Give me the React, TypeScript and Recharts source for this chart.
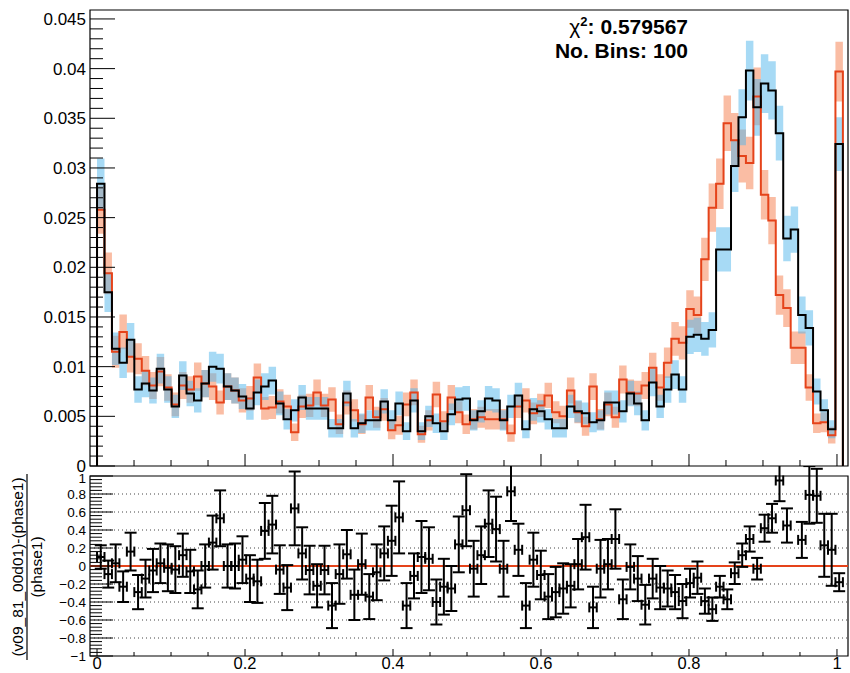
import {
  ComposedChart,
  Line,
  Area,
  XAxis,
  YAxis,
  Scatter,
  ErrorBar,
  ReferenceLine,
  ReferenceArea,
} from 'recharts'

const FONT = '"Liberation Sans", Arial, Helvetica, sans-serif'

// 100 bins, normalised histograms
const v09Hist = [
  0.0284, 0.0175, 0.0118, 0.0104, 0.0127, 0.0077, 0.0083, 0.0076, 0.0098, 0.0077,
  0.006, 0.0091, 0.0073, 0.0066, 0.0083, 0.01, 0.0098, 0.008, 0.0076, 0.007,
  0.0058, 0.0074, 0.008, 0.0086, 0.0063, 0.0047, 0.0056, 0.0069, 0.0058, 0.0058,
  0.0058, 0.0038, 0.0038, 0.0073, 0.0038, 0.0043, 0.0046, 0.0046, 0.0065, 0.0046,
  0.0063, 0.0035, 0.0066, 0.0035, 0.005, 0.0043, 0.0035, 0.0052, 0.0067, 0.0068,
  0.0046, 0.0055, 0.0068, 0.0066, 0.0046, 0.006, 0.0071, 0.0037, 0.0057, 0.0055,
  0.0047, 0.0038, 0.0038, 0.006, 0.0055, 0.0053, 0.0044, 0.0046, 0.0064, 0.0064,
  0.0055, 0.0073, 0.0063, 0.0046, 0.0084, 0.006, 0.0077, 0.0092, 0.0077, 0.013,
  0.0132, 0.0128, 0.0137, 0.0218, 0.0218, 0.0302, 0.0351, 0.0398, 0.0361, 0.0385,
  0.0378, 0.0335, 0.0229, 0.0238, 0.0152, 0.0139, 0.0075, 0.0056, 0.0037, 0.0324,
]

const phase1Hist = [
  0.0258, 0.0194, 0.0115, 0.0135, 0.011, 0.0108, 0.0096, 0.0081, 0.0095, 0.0079,
  0.0062, 0.0081, 0.0077, 0.009, 0.0083, 0.008, 0.0064, 0.008, 0.0076, 0.0066,
  0.0068, 0.0089, 0.0058, 0.0059, 0.0065, 0.006, 0.0034, 0.006, 0.0061, 0.0074,
  0.0061, 0.0067, 0.0042, 0.0064, 0.0056, 0.0042, 0.0069, 0.0049, 0.0057, 0.0036,
  0.0041, 0.0062, 0.0074, 0.0032, 0.0046, 0.0072, 0.0045, 0.0069, 0.0054, 0.0042,
  0.0047, 0.0049, 0.0047, 0.0047, 0.0047, 0.0033, 0.006, 0.0066, 0.0053, 0.0061,
  0.0071, 0.0054, 0.005, 0.0076, 0.0054, 0.004, 0.008, 0.0047, 0.0062, 0.0049,
  0.0087, 0.0074, 0.0073, 0.0081, 0.0099, 0.0079, 0.0104, 0.0128, 0.0124, 0.0158,
  0.0152, 0.0208, 0.026, 0.0284, 0.0345, 0.0328, 0.0312, 0.0305, 0.0372, 0.0273,
  0.0247, 0.0172, 0.0159, 0.0119, 0.0119, 0.0079, 0.0043, 0.0044, 0.0031, 0.0397,
]

// (v09 - phase1) / phase1, bin 93 is off scale (not drawn)
const ratioVals: (number | null)[] = [
  0.1, -0.09, 0.03, -0.23, 0.16, -0.29, -0.14, -0.05, 0.03, -0.02,
  -0.04, 0.12, -0.06, -0.26, 0.0, 0.26, 0.53, 0.0, 0.0, 0.07,
  -0.14, -0.17, 0.39, 0.46, -0.04, -0.24, 0.64, 0.14, -0.045, -0.22,
  -0.045, -0.44, -0.09, 0.13, -0.32, 0.02, -0.34, -0.07, 0.14, 0.28,
  0.54, -0.44, -0.11, 0.1, 0.08, -0.4, -0.23, -0.25, 0.24, 0.62,
  -0.03, 0.12, 0.47, 0.41, -0.03, 0.83, 0.18, -0.44, 0.07, -0.1,
  -0.34, -0.29, -0.25, -0.22, 0.02, 0.32, -0.46, -0.03, 0.02, 0.3,
  -0.37, -0.01, -0.14, -0.43, -0.14, -0.24, -0.25, -0.29, -0.39, -0.19,
  -0.13, -0.39, -0.48, -0.23, -0.37, -0.08, 0.12, 0.3, -0.03, 0.42,
  0.53, 0.95, 0.45, null, 0.29, 0.79, 0.78, 0.23, 0.18, -0.18,
]

const ratioErrs = [
  0.13, 0.15, 0.21, 0.17, 0.21, 0.19, 0.21, 0.24, 0.22, 0.26,
  0.26, 0.24, 0.24, 0.21, 0.24, 0.3, 0.31, 0.24, 0.25, 0.26,
  0.26, 0.24, 0.31, 0.32, 0.27, 0.25, 0.41, 0.29, 0.27, 0.24,
  0.27, 0.25, 0.33, 0.27, 0.28, 0.34, 0.25, 0.31, 0.3, 0.39,
  0.4, 0.25, 0.25, 0.4, 0.35, 0.25, 0.31, 0.25, 0.31, 0.4,
  0.31, 0.32, 0.37, 0.36, 0.31, 0.33, 0.29, 0.25, 0.3, 0.27,
  0.25, 0.28, 0.28, 0.24, 0.28, 0.36, 0.23, 0.32, 0.28, 0.33,
  0.22, 0.25, 0.25, 0.22, 0.22, 0.24, 0.2, 0.19, 0.19, 0.16,
  0.18, 0.14, 0.13, 0.12, 0.11, 0.12, 0.13, 0.14, 0.12, 0.15,
  0.16, 0.23, 0.19, 0.2, 0.2, 0.32, 0.3, 0.35, 0.4, 0.1,
]

const BIN_WIDTH = 0.01008
const X_DOMAIN: [number, number] = [-0.0095, 1.0149]
const TOP_Y_DOMAIN: [number, number] = [0, 0.0459]
const RATIO_DOMAIN: [number, number] = [-1, 1]
// effective entries used for the poisson error bands
const ENTRIES = 4400

const xMajorTicks = [0, 0.2, 0.4, 0.6, 0.8, 1]
const xMajorLabels = ['0', '0.2', '0.4', '0.6', '0.8', '1']
const topYMajorTicks = [0, 0.005, 0.01, 0.015, 0.02, 0.025, 0.03, 0.035, 0.04, 0.045]
const topYMajorLabels = ['0', '0.005', '0.01', '0.015', '0.02', '0.025', '0.03', '0.035', '0.04', '0.045']
const ratioYMajorTicks = [-1, -0.8, -0.6, -0.4, -0.2, 0, 0.2, 0.4, 0.6, 0.8, 1]
const ratioYMajorLabels = ['\u22121', '\u22120.8', '\u22120.6', '\u22120.4', '\u22120.2', '0', '0.2', '0.4', '0.6', '0.8', '1']
const ratioGridLines = [-0.8, -0.6, -0.4, -0.2, 0.2, 0.4, 0.6, 0.8]

const chi2Value = '0.579567'
const nBinsText = 'No. Bins: 100'
const ratioTitleNum = '(v09_81_00d01)-(phase1)'
const ratioTitleDen = '(phase1)'

const steps = (from: number, to: number, step: number) => {
  const out: number[] = []
  for (let v = from; v <= to + step / 1000; v += step) out.push(Math.round(v * 1e6) / 1e6)
  return out
}

const xTicks = steps(0, 1, 0.05)
const topYTicks = steps(0, 0.045, 0.001)
const ratioYTicks = steps(-1, 1, 0.04)

const band = (v: number) => Math.sqrt(v / ENTRIES)
const bandOf = (v: number): [number, number] => [v - band(v), v + band(v)]

const nBins = v09Hist.length
const topData = [
  { x: 0, v09: 0, phase1: 0, v09Band: bandOf(v09Hist[0]), phase1Band: bandOf(phase1Hist[0]) },
  ...v09Hist.map((v, i) => ({
    x: i * BIN_WIDTH,
    v09: v,
    phase1: phase1Hist[i],
    v09Band: bandOf(v),
    phase1Band: bandOf(phase1Hist[i]),
  })),
  {
    x: nBins * BIN_WIDTH,
    v09: v09Hist[nBins - 1],
    phase1: phase1Hist[nBins - 1],
    v09Band: bandOf(v09Hist[nBins - 1]),
    phase1Band: bandOf(phase1Hist[nBins - 1]),
  },
  {
    x: nBins * BIN_WIDTH,
    v09: 0,
    phase1: 0,
    v09Band: bandOf(v09Hist[nBins - 1]),
    phase1Band: bandOf(phase1Hist[nBins - 1]),
  },
]

const ratioData = ratioVals
  .map((r, i) =>
    r === null ? null : { x: (i + 0.5) * BIN_WIDTH, y: r, err: ratioErrs[i], xerr: BIN_WIDTH / 2 }
  )
  .filter((d) => d !== null)

const findMajor = (majors: number[], v: number) => majors.findIndex((m) => Math.abs(m - v) < 1e-9)

// ROOT style ticks: drawn inwards from the frame
// topShift nudges the uppermost label down a little, like ROOT does at the pad edge
const makeYTick = (
  majors: number[],
  labels: string[],
  majorLen: number,
  minorLen: number,
  fontSize: number,
  topShift = 0
) =>
  function YTick(props: any) {
    const { x, y, payload } = props
    const idx = findMajor(majors, payload.value)
    const shift = idx === majors.length - 1 ? topShift : 0
    return (
      <g>
        <line x1={x} x2={x + (idx >= 0 ? majorLen : minorLen)} y1={y} y2={y} stroke="#000" strokeWidth={1} />
        {idx >= 0 && (
          <text x={x - 4} y={y + shift} dy="0.36em" textAnchor="end" fontSize={fontSize} fontFamily={FONT} fill="#000">
            {labels[idx]}
          </text>
        )}
      </g>
    )
  }

const makeXTick = (majorLen: number, minorLen: number, showLabels: boolean) =>
  function XTick(props: any) {
    const { x, y, payload } = props
    const idx = findMajor(xMajorTicks, payload.value)
    return (
      <g>
        <line x1={x} x2={x} y1={y} y2={y - (idx >= 0 ? majorLen : minorLen)} stroke="#000" strokeWidth={1} />
        {showLabels && idx >= 0 && (
          <text x={x} y={y + 13} textAnchor="middle" fontSize={16.5} fontFamily={FONT} fill="#000">
            {xMajorLabels[idx]}
          </text>
        )}
      </g>
    )
  }

const TopYTick = makeYTick(topYMajorTicks, topYMajorLabels, 25, 13, 17)
const RatioYTick = makeYTick(ratioYMajorTicks, ratioYMajorLabels, 23, 12, 13.5, 2)
const TopXTick = makeXTick(12, 6, false)
const RatioXTick = makeXTick(7, 4, true)

const NoShape = () => <g />

export default function App() {
  return (
    <div style={{ position: 'absolute', left: 0, top: 0, width: 850, height: 673, background: '#fff', fontFamily: FONT }}>
      <div style={{ position: 'absolute', left: 0, top: 466 }}>
        <ComposedChart width={850} height={207} margin={{ top: 10, right: 2, bottom: 0, left: 0 }}>
          <XAxis
            dataKey="x"
            type="number"
            domain={X_DOMAIN}
            allowDataOverflow
            ticks={xTicks}
            interval={0}
            height={17}
            tickSize={0}
            tickMargin={0}
            axisLine={false}
            tickLine={false}
            tick={RatioXTick}
          />
          <YAxis
            type="number"
            domain={RATIO_DOMAIN}
            allowDataOverflow
            ticks={ratioYTicks}
            interval={0}
            width={90}
            tickSize={0}
            tickMargin={0}
            axisLine={false}
            tickLine={false}
            tick={RatioYTick}
          />
          {ratioGridLines.map((g) => (
            <ReferenceLine key={g} y={g} stroke="#444" strokeWidth={1} strokeDasharray="1 3" />
          ))}
          <ReferenceLine y={0} stroke="#e5431a" strokeWidth={2} />
          <Scatter data={ratioData} dataKey="y" shape={NoShape} isAnimationActive={false}>
            <ErrorBar dataKey="err" direction="y" width={6} stroke="#000" strokeWidth={2} />
            <ErrorBar dataKey="xerr" direction="x" width={5} stroke="#000" strokeWidth={2} />
          </Scatter>
          <ReferenceArea
            x1={X_DOMAIN[0]}
            x2={X_DOMAIN[1]}
            y1={RATIO_DOMAIN[0]}
            y2={RATIO_DOMAIN[1]}
            ifOverflow="visible"
            fill="none"
            fillOpacity={0}
            stroke="#000"
            strokeWidth={1.2}
          />
        </ComposedChart>
      </div>

      <div style={{ position: 'absolute', left: 0, top: 0 }}>
        <ComposedChart width={850} height={476} data={topData} margin={{ top: 10, right: 2, bottom: 6, left: 0 }}>
          <XAxis
            dataKey="x"
            type="number"
            domain={X_DOMAIN}
            allowDataOverflow
            ticks={xTicks}
            interval={0}
            height={4}
            tickSize={0}
            tickMargin={0}
            axisLine={false}
            tickLine={false}
            tick={TopXTick}
          />
          <YAxis
            type="number"
            domain={TOP_Y_DOMAIN}
            allowDataOverflow
            ticks={topYTicks}
            interval={0}
            width={90}
            tickSize={0}
            tickMargin={0}
            axisLine={false}
            tickLine={false}
            tick={TopYTick}
          />
          <Area
            type="stepAfter"
            dataKey="phase1Band"
            stroke="none"
            fill="#f57c4a"
            fillOpacity={0.5}
            isAnimationActive={false}
          />
          <Area
            type="stepAfter"
            dataKey="v09Band"
            stroke="none"
            fill="#4fb6ec"
            fillOpacity={0.5}
            isAnimationActive={false}
          />
          <Line
            type="stepAfter"
            dataKey="phase1"
            stroke="#e5431a"
            strokeWidth={2}
            dot={false}
            isAnimationActive={false}
          />
          <Line
            type="stepAfter"
            dataKey="v09"
            stroke="#000"
            strokeWidth={2}
            dot={false}
            isAnimationActive={false}
          />
          <ReferenceArea
            x1={X_DOMAIN[0]}
            x2={X_DOMAIN[1]}
            y1={TOP_Y_DOMAIN[0]}
            y2={TOP_Y_DOMAIN[1]}
            ifOverflow="visible"
            fill="none"
            fillOpacity={0}
            stroke="#000"
            strokeWidth={1.2}
          />
        </ComposedChart>
      </div>

      <svg
        width={850}
        height={673}
        style={{ position: 'absolute', left: 0, top: 0, pointerEvents: 'none' }}
      >
        <text x={688} y={34} textAnchor="end" fontFamily={FONT} fontSize={21} fontWeight="bold" fill="#000">
          <tspan fontWeight="normal">χ</tspan>
          <tspan dy={-8} fontSize={13}>2</tspan>
          <tspan dy={8}>: {chi2Value}</tspan>
        </text>
        <text x={688} y={58} textAnchor="end" fontFamily={FONT} fontSize={21} fontWeight="bold" fill="#000">
          {nBinsText}
        </text>
        <g transform="rotate(-90)">
          <text x={-567} y={23} textAnchor="middle" fontFamily={FONT} fontSize={15.5} fill="#000">
            {ratioTitleNum}
          </text>
          <line x1={-660} x2={-474} y1={27} y2={27} stroke="#000" strokeWidth={1.2} />
          <text x={-567} y={42} textAnchor="middle" fontFamily={FONT} fontSize={15.5} fill="#000">
            {ratioTitleDen}
          </text>
        </g>
      </svg>
    </div>
  )
}
